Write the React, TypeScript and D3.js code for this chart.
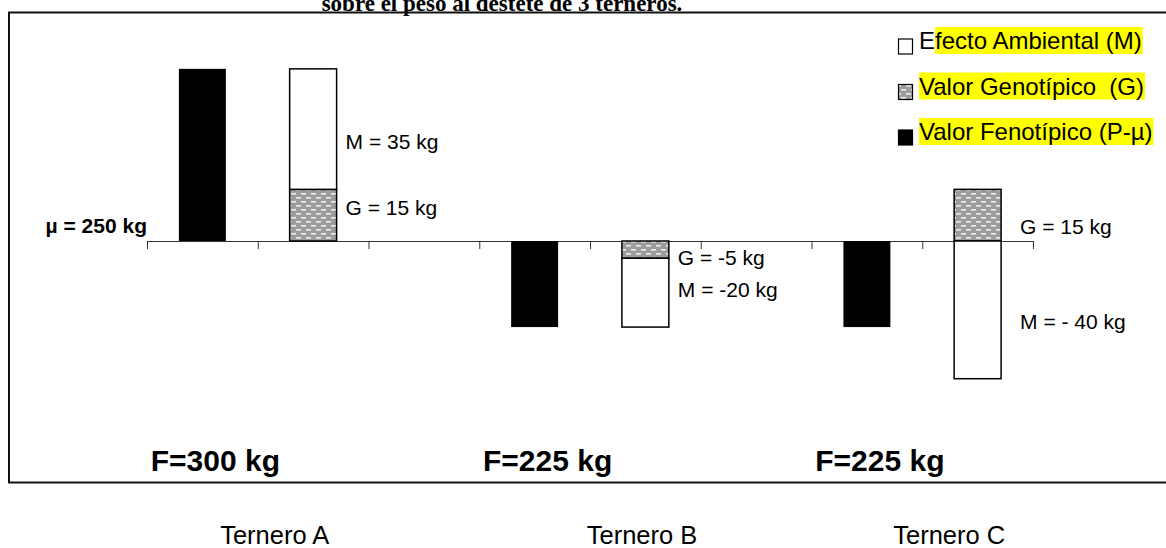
import React, { useEffect, useRef } from "react";
import * as d3 from "d3";

// values (kg)
const calves = ["Ternero A", "Ternero B", "Ternero C"];
const phenotype = [300, 225, 225];
const mu = 250;
const genotypic = [15, -5, 15];
const environmental = [35, -20, -40];
const segmentLabels = [
  ["G = 15 kg", "M = 35 kg"],
  ["G = -5 kg", "M = -20 kg"],
  ["G = 15 kg", "M = - 40 kg"],
];
const legendItems = ["Efecto Ambiental (M)", "Valor Genotípico  (G)", "Valor Fenotípico (P-µ)"];
const title = "sobre el peso al destete de 3 terneros.";

const SANS = "'Liberation Sans', Arial, sans-serif";

const App = () => {
  const ref = useRef<SVGSVGElement>(null);

  useEffect(() => {
    const svg = d3.select(ref.current);
    svg.selectAll("*").remove();

    const defs = svg.append("defs");
    const pat = defs
      .append("pattern")
      .attr("id", "dots")
      .attr("patternUnits", "userSpaceOnUse")
      .attr("width", 10)
      .attr("height", 8);
    pat.append("rect").attr("width", 10).attr("height", 8).attr("fill", "#9c9c9c");
    pat.append("rect").attr("x", 1).attr("y", 1).attr("width", 5).attr("height", 1.6).attr("fill", "#ececec");
    pat.append("rect").attr("x", 6).attr("y", 5).attr("width", 5).attr("height", 1.6).attr("fill", "#ececec");
    pat.append("rect").attr("x", -4).attr("y", 5).attr("width", 5).attr("height", 1.6).attr("fill", "#ececec");

    // title, cut at the top like the source
    svg
      .append("text")
      .attr("x", 502)
      .attr("y", 11)
      .attr("text-anchor", "middle")
      .attr("font-family", "'Liberation Serif', 'Times New Roman', serif")
      .attr("font-weight", "bold")
      .attr("font-size", 23)
      .text(title);

    // frame
    svg
      .append("rect")
      .attr("x", 9)
      .attr("y", 12.5)
      .attr("width", 1170)
      .attr("height", 470)
      .attr("fill", "none")
      .attr("stroke", "#111")
      .attr("stroke-width", 2);

    const slots = d3.range(8);
    const xl = d3.scaleLinear().domain([0, 8]).range([147, 1033]);
    const x = d3.scaleBand<number>().domain(slots).range([147, 1033]).padding(0);
    const y = d3.scaleLinear().domain([-70, 70]).range([482, 0]);
    const bw = x.bandwidth() * 0.424;
    const cx = (s: number) => (x(s) as number) + x.bandwidth() / 2;

    // axis at mu
    const axis = d3
      .axisBottom(xl)
      .ticks(8)
      .tickFormat(() => "")
      .tickSizeInner(8)
      .tickSizeOuter(0);
    const ag = svg.append("g").attr("transform", `translate(0,${y(0)})`).call(axis);
    ag.select(".domain").attr("stroke", "#333");
    ag.selectAll(".tick line").attr("stroke", "#333");

    // phenotypic bars
    svg
      .append("g")
      .selectAll("rect")
      .data(phenotype)
      .join("rect")
      .attr("x", (d, i) => cx(3 * i) - bw / 2)
      .attr("width", bw)
      .attr("y", (d) => y(Math.max(0, d - mu)))
      .attr("height", (d) => Math.abs(y(d - mu) - y(0)))
      .attr("fill", "#000");

    // G / M diverging stack
    const rows = calves.map((c, i) => ({ calf: c, G: genotypic[i], M: environmental[i] }));
    const series = d3.stack<any>().keys(["G", "M"]).offset(d3.stackOffsetDiverging)(rows);

    series.forEach((s, k) => {
      svg
        .append("g")
        .selectAll("rect")
        .data(s)
        .join("rect")
        .attr("x", (d, i) => cx(3 * i + 1) - bw / 2)
        .attr("width", bw)
        .attr("y", (d) => y(Math.max(d[0], d[1])))
        .attr("height", (d) => Math.abs(y(d[0]) - y(d[1])))
        .attr("fill", k === 0 ? "url(#dots)" : "#fff")
        .attr("stroke", "#000")
        .attr("stroke-width", 1.5);
    });

    // segment labels, nudged off the segment middle as in the source
    const nudge = [
      [-8, 12],
      [8, -3],
      [11, 12],
    ];
    const nudgeX = [0, 0, 10];
    series.forEach((s, k) => {
      s.forEach((d, i) => {
        const mid = (y(d[0]) + y(d[1])) / 2;
        svg
          .append("text")
          .attr("x", cx(3 * i + 1) + bw / 2 + 9 + nudgeX[i])
          .attr("y", mid + nudge[i][k] + 7.5)
          .attr("font-family", SANS)
          .attr("font-size", 21)
          .text(segmentLabels[i][k]);
      });
    });

    // mu label
    svg
      .append("text")
      .attr("x", 147)
      .attr("y", y(0) - 8)
      .attr("text-anchor", "end")
      .attr("font-family", SANS)
      .attr("font-weight", "bold")
      .attr("font-size", 21)
      .text(`µ = ${mu} kg`);

    // F labels
    svg
      .append("g")
      .selectAll("text")
      .data(phenotype)
      .join("text")
      .attr("x", (d, i) => cx(3 * i) + 13)
      .attr("y", 471)
      .attr("text-anchor", "middle")
      .attr("font-family", SANS)
      .attr("font-weight", "bold")
      .attr("font-size", 30)
      .text((d) => `F=${d} kg`);

    // calf names below frame
    const nameShift = [17, 52, 27];
    svg
      .append("g")
      .selectAll("text")
      .data(calves)
      .join("text")
      .attr("x", (d, i) => (cx(3 * i) + cx(3 * i + 1)) / 2 + nameShift[i])
      .attr("y", 544)
      .attr("text-anchor", "middle")
      .attr("font-family", SANS)
      .attr("font-size", 25.5)
      .text((d) => d);

    // legend
    const fills = ["#fff", "url(#dots)", "#000"];
    legendItems.forEach((label, i) => {
      const base = 49 + i * 45.5;
      const g = svg.append("g");
      const hl = g.append("rect").attr("fill", "#ffff00");
      g.append("rect")
        .attr("x", 898.5)
        .attr("y", base - 10)
        .attr("width", 14)
        .attr("height", 15)
        .attr("fill", fills[i])
        .attr("stroke", "#000")
        .attr("stroke-width", 1.2);
      const t = g
        .append("text")
        .attr("x", 919)
        .attr("y", base)
        .attr("font-family", SANS)
        .attr("font-size", 24)
        .style("white-space", "pre")
        .text(label);
      const node = t.node() as SVGTextElement;
      const total = node.getComputedTextLength();
      const skip = i === 0 ? node.getSubStringLength(0, 1) : 0;
      hl.attr("x", 919 + skip)
        .attr("y", base - 22)
        .attr("width", total - skip + 1)
        .attr("height", 27);
    });
  }, []);

  return (
    <svg
      ref={ref}
      width={1166}
      height={548}
      style={{ position: "absolute", left: 0, top: 0, background: "#fff" }}
    />
  );
};

export default App;
